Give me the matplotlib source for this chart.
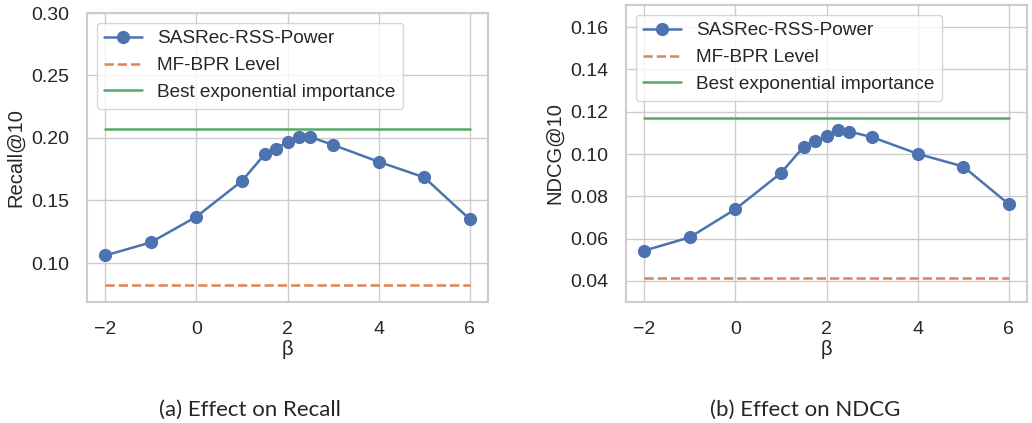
import matplotlib
matplotlib.use("Agg")
import matplotlib.pyplot as plt
import seaborn as sns

beta = [-2, -1, 0, 1, 1.5, 1.75, 2, 2.25, 2.5, 3, 4, 5, 6]
recall = [0.106, 0.1165, 0.137, 0.1656, 0.187, 0.1914, 0.197, 0.2007, 0.2008, 0.1945, 0.181, 0.1685, 0.135]
ndcg = [0.0543, 0.0606, 0.0739, 0.0910, 0.1035, 0.1060, 0.1086, 0.1112, 0.1106, 0.1080, 0.1001, 0.0941, 0.0763]
recall_mf = 0.0825
recall_best = 0.207
ndcg_mf = 0.0412
ndcg_best = 0.1172

series_label = "SASRec-RSS-Power"
mf_label = "MF-BPR Level"
best_label = "Best exponential importance"
captions = ["(a) Effect on Recall", "(b) Effect on NDCG"]
ylabels = ["Recall@10", "NDCG@10"]

sns.set_theme(style="whitegrid")
plt.rcParams['font.family'] = ['Liberation Sans', 'DejaVu Sans']

W, H = 1032, 423
fig = plt.figure(figsize=(W / 100, H / 100), dpi=100)

def rect(l, r, t, b):
    return [l / W, 1 - b / H, (r - l) / W, (b - t) / H]

blue, orange, green = sns.color_palette()[0], sns.color_palette()[1], sns.color_palette()[2]

specs = [
    (rect(87, 488, 13, 302), recall, recall_mf, recall_best, (0.0688, 0.30), [0.10, 0.15, 0.20, 0.25, 0.30], "{:.2f}"),
    (rect(626, 1027, 5, 302), ndcg, ndcg_mf, ndcg_best, (0.0300, 0.1705), [0.04, 0.06, 0.08, 0.10, 0.12, 0.14, 0.16], "{:.2f}"),
]

xmin, xmax = min(beta), max(beta)
for i, (r, vals, mf, best, ylim, yt, fmt) in enumerate(specs):
    ax = fig.add_axes(r)
    ax.plot(beta, vals, '-o', color=blue, lw=1.8, markersize=8.5, label=series_label)
    ax.plot([xmin, xmax], [mf, mf], '--', color=orange, lw=1.8, label=mf_label)
    ax.plot([xmin, xmax], [best, best], '-', color=green, lw=1.8, label=best_label)
    ax.set_xlim(-2.4, 6.4)
    ax.set_ylim(*ylim)
    ax.set_xticks([-2, 0, 2, 4, 6])
    ax.set_xticklabels(["\u22122", "0", "2", "4", "6"])
    ax.set_yticks(yt)
    ax.set_yticklabels([fmt.format(v) for v in yt])
    ax.tick_params(axis='y', labelsize=14, pad=7)
    ax.tick_params(axis='x', labelsize=14, pad=8)
    ax.set_xlabel("\u03b2", fontsize=14.5, labelpad=1)
    ax.set_ylabel(ylabels[i], fontsize=14.5, labelpad=4)
    for s in ax.spines.values():
        s.set_linewidth(1.5)
    ax.legend(loc="upper left", fontsize=13.7, framealpha=0.8, handlelength=2.0)

fig.text(250 / W, 1 - 416 / H, captions[0], ha="center", va="baseline", fontsize=16, family=["Lato", "DejaVu Sans"])
fig.text(805 / W, 1 - 416 / H, captions[1], ha="center", va="baseline", fontsize=16, family=["Lato", "DejaVu Sans"])

fig.savefig("out.png", dpi=100)
